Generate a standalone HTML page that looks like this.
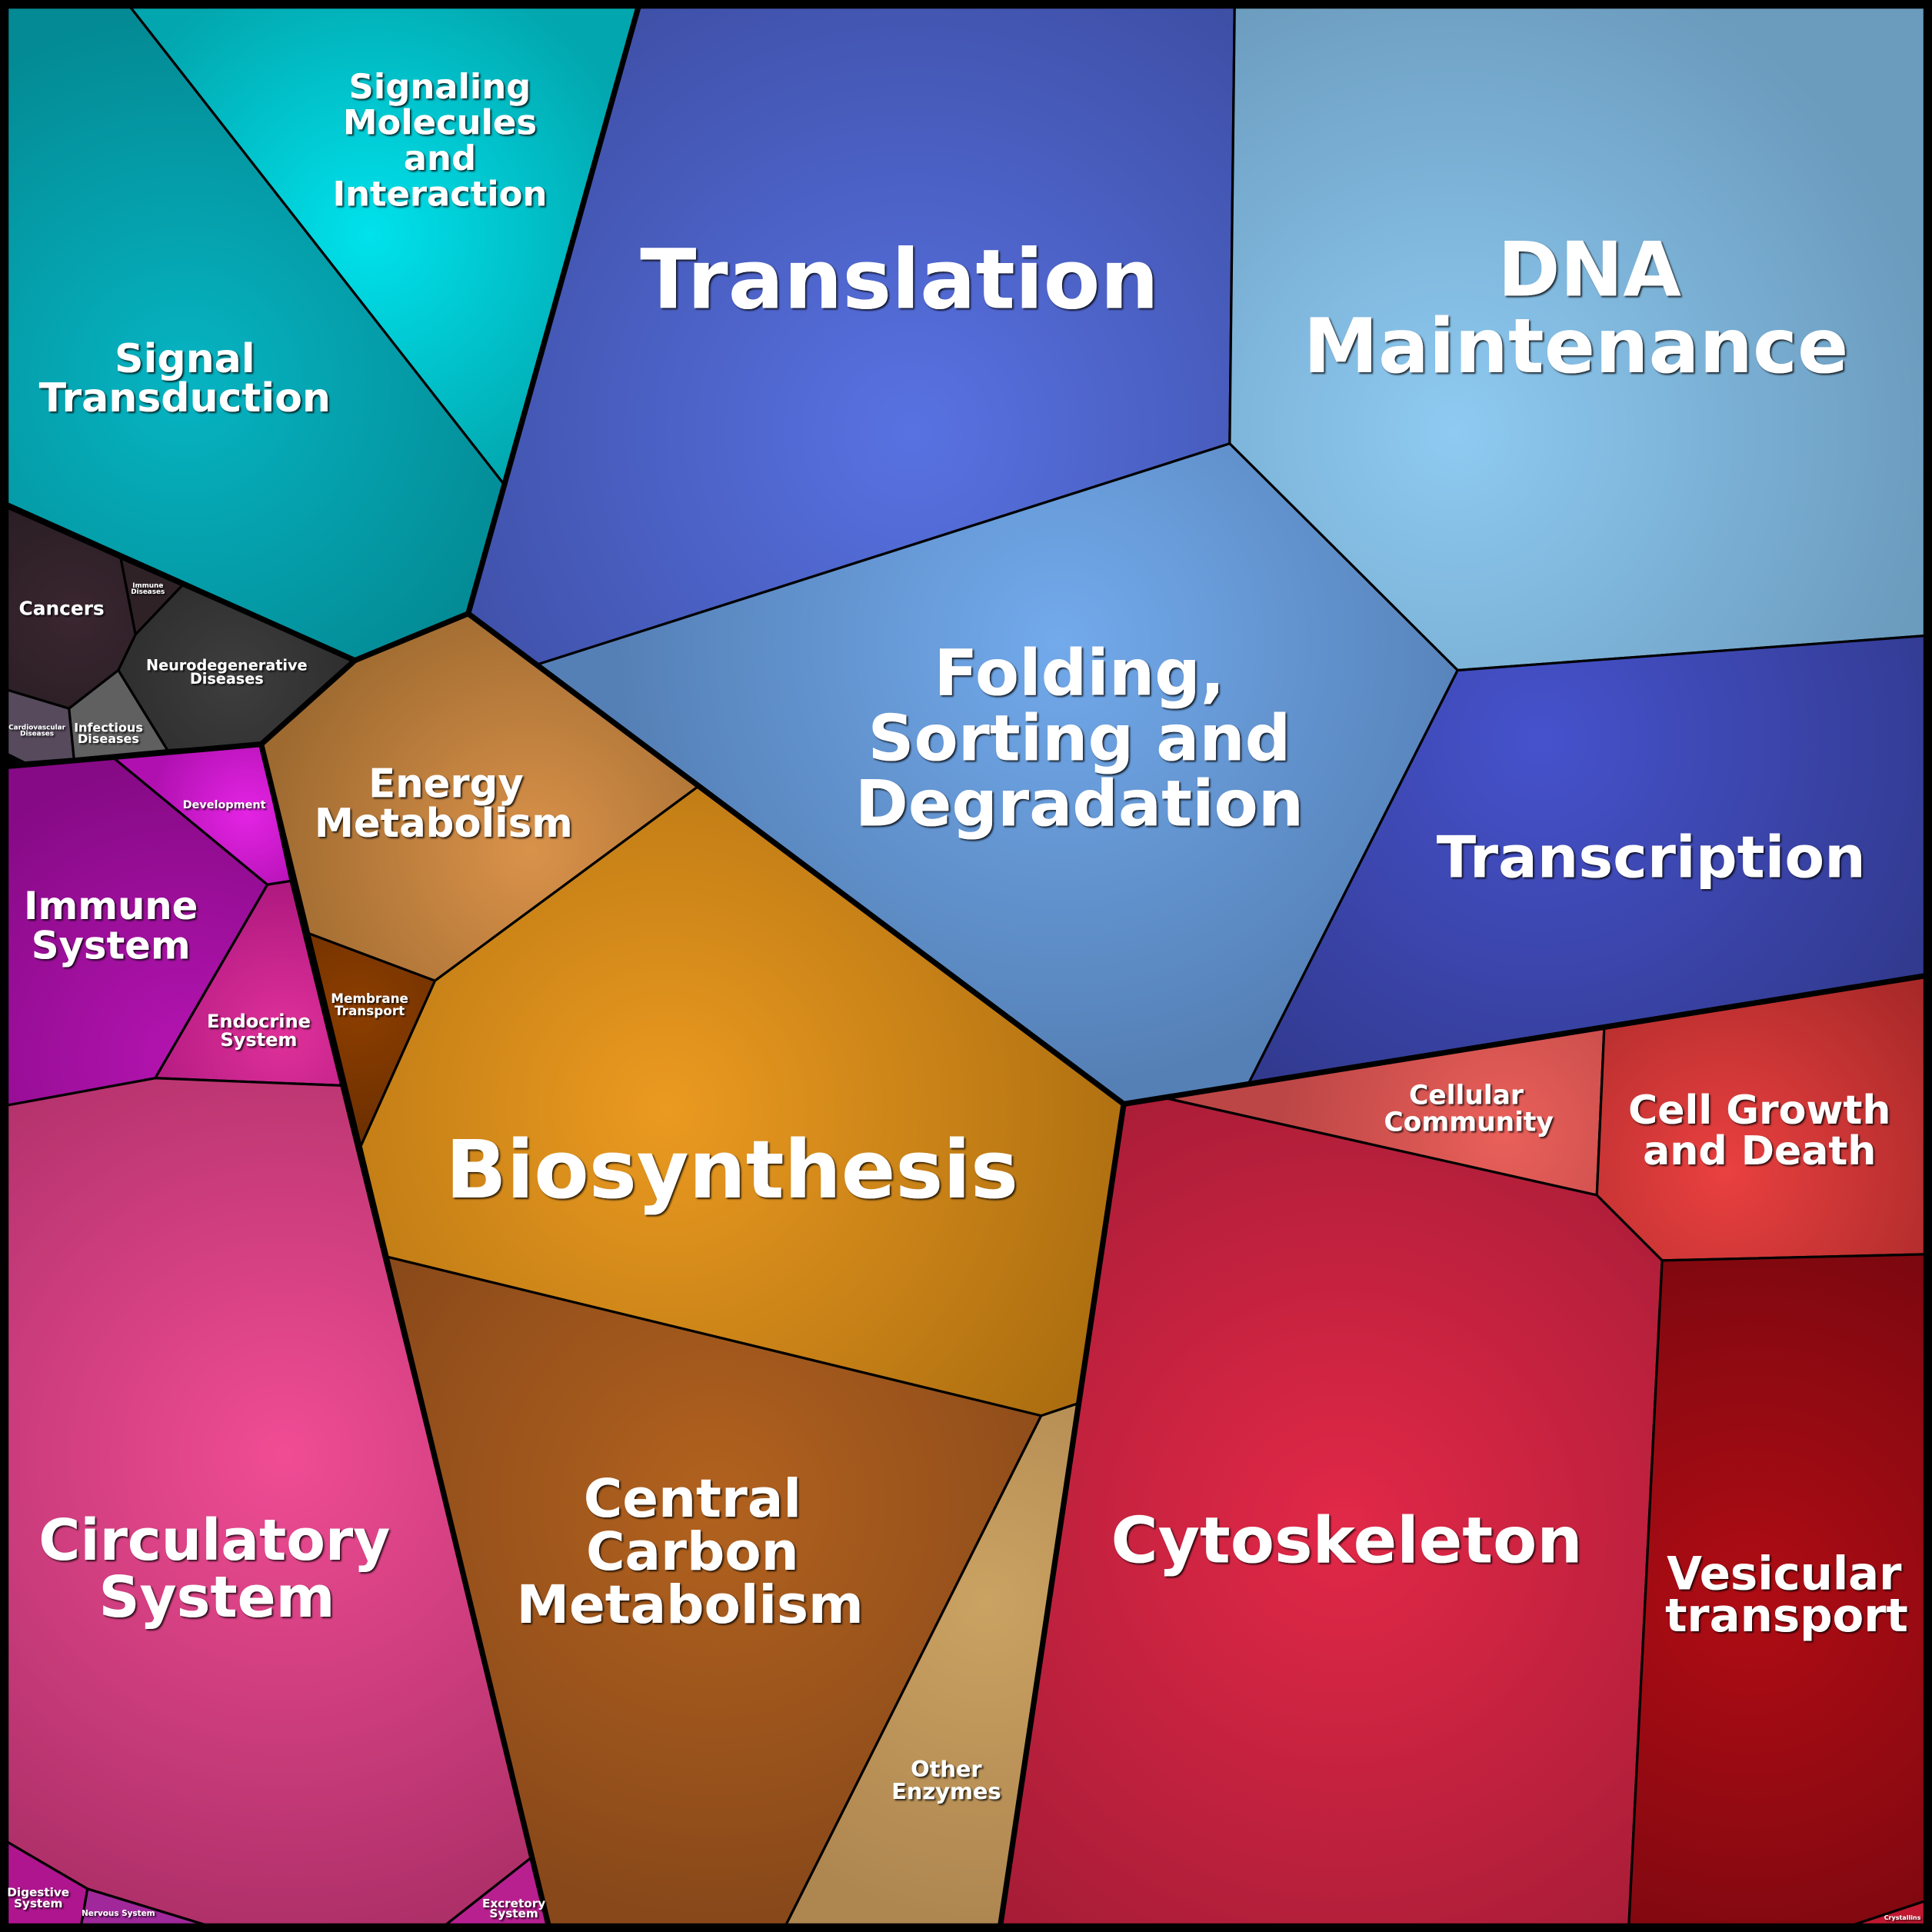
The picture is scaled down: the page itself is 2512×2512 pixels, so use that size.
<!DOCTYPE html>
<html><head><meta charset="utf-8"><style>
html,body{margin:0;padding:0;background:#000;}
svg{display:block;}
text{font-family:"DejaVu Sans","Liberation Sans",sans-serif;font-weight:bold;fill:#fff;text-anchor:middle;}
</style></head><body>
<svg width="2512" height="2512" viewBox="0 0 1568 1568" xmlns="http://www.w3.org/2000/svg">
<defs>
<filter id="sh" x="-10%" y="-10%" width="120%" height="130%"><feDropShadow dx="1.2" dy="1.2" stdDeviation="0.6" flood-color="#000" flood-opacity="0.8"/></filter>
<radialGradient id="gST" gradientUnits="userSpaceOnUse" cx="150" cy="310" r="300"><stop offset="0" stop-color="#06b4c2"/><stop offset="1" stop-color="#038a94"/></radialGradient>
<radialGradient id="gSM" gradientUnits="userSpaceOnUse" cx="300" cy="190" r="230"><stop offset="0" stop-color="#00e2ec"/><stop offset="1" stop-color="#02a6ae"/></radialGradient>
<radialGradient id="gTR" gradientUnits="userSpaceOnUse" cx="740" cy="350" r="420"><stop offset="0" stop-color="#5872e2"/><stop offset="1" stop-color="#3e4fa6"/></radialGradient>
<radialGradient id="gDNA" gradientUnits="userSpaceOnUse" cx="1180" cy="350" r="400"><stop offset="0" stop-color="#8ecaf2"/><stop offset="1" stop-color="#6b9bbd"/></radialGradient>
<radialGradient id="gFO" gradientUnits="userSpaceOnUse" cx="860" cy="520" r="360"><stop offset="0" stop-color="#72aaec"/><stop offset="1" stop-color="#5580b6"/></radialGradient>
<radialGradient id="gTS" gradientUnits="userSpaceOnUse" cx="1250" cy="600" r="380"><stop offset="0" stop-color="#4652cc"/><stop offset="1" stop-color="#30388a"/></radialGradient>
<radialGradient id="gCA" gradientUnits="userSpaceOnUse" cx="60" cy="500" r="100"><stop offset="0" stop-color="#3a2630"/><stop offset="1" stop-color="#2a1e24"/></radialGradient>
<radialGradient id="gNE" gradientUnits="userSpaceOnUse" cx="190" cy="550" r="120"><stop offset="0" stop-color="#3e3e3e"/><stop offset="1" stop-color="#2a2a2a"/></radialGradient>
<radialGradient id="gDE" gradientUnits="userSpaceOnUse" cx="200" cy="660" r="80"><stop offset="0" stop-color="#e424e4"/><stop offset="1" stop-color="#b010b0"/></radialGradient>
<radialGradient id="gIM" gradientUnits="userSpaceOnUse" cx="150" cy="860" r="240"><stop offset="0" stop-color="#b414b0"/><stop offset="1" stop-color="#860a86"/></radialGradient>
<radialGradient id="gEN" gradientUnits="userSpaceOnUse" cx="230" cy="840" r="120"><stop offset="0" stop-color="#e0309a"/><stop offset="1" stop-color="#b01a80"/></radialGradient>
<radialGradient id="gCI" gradientUnits="userSpaceOnUse" cx="230" cy="1180" r="420"><stop offset="0" stop-color="#f04c94"/><stop offset="1" stop-color="#aa2e66"/></radialGradient>
<radialGradient id="gEM" gradientUnits="userSpaceOnUse" cx="430" cy="690" r="220"><stop offset="0" stop-color="#da924a"/><stop offset="1" stop-color="#9e6a30"/></radialGradient>
<radialGradient id="gMT" gradientUnits="userSpaceOnUse" cx="290" cy="820" r="100"><stop offset="0" stop-color="#8c3e00"/><stop offset="1" stop-color="#6e3000"/></radialGradient>
<radialGradient id="gBI" gradientUnits="userSpaceOnUse" cx="540" cy="900" r="400"><stop offset="0" stop-color="#eb9a20"/><stop offset="1" stop-color="#ac6e10"/></radialGradient>
<radialGradient id="gCC" gradientUnits="userSpaceOnUse" cx="580" cy="1220" r="340"><stop offset="0" stop-color="#b2621e"/><stop offset="1" stop-color="#88481a"/></radialGradient>
<radialGradient id="gOE" gradientUnits="userSpaceOnUse" cx="800" cy="1300" r="260"><stop offset="0" stop-color="#caa262"/><stop offset="1" stop-color="#ae8650"/></radialGradient>
<radialGradient id="gCO" gradientUnits="userSpaceOnUse" cx="1220" cy="920" r="180"><stop offset="0" stop-color="#ea605a"/><stop offset="1" stop-color="#bc4646"/></radialGradient>
<radialGradient id="gCG" gradientUnits="userSpaceOnUse" cx="1400" cy="950" r="220"><stop offset="0" stop-color="#ea4040"/><stop offset="1" stop-color="#a62828"/></radialGradient>
<radialGradient id="gCY" gradientUnits="userSpaceOnUse" cx="1090" cy="1240" r="420"><stop offset="0" stop-color="#e22848"/><stop offset="1" stop-color="#a61c36"/></radialGradient>
<radialGradient id="gVE" gradientUnits="userSpaceOnUse" cx="1420" cy="1300" r="300"><stop offset="0" stop-color="#b00c14"/><stop offset="1" stop-color="#7e0810"/></radialGradient>
</defs>
<rect width="1568" height="1568" fill="#000"/>
<g stroke="#000" stroke-width="2" stroke-linejoin="round">
<polygon fill="url(#gST)" points="6,6 106,6 409,393 380,498 288,536 6,410"/>
<polygon fill="url(#gSM)" points="106,6 518,6 409,393"/>
<polygon fill="url(#gTR)" points="518,6 1002,6 998,360 437,539 380,498"/>
<polygon fill="url(#gDNA)" points="1002,6 1562,6 1562,516 1183,544 998,360"/>
<polygon fill="url(#gFO)" points="437,539 998,360 1183,544 1013,880 912,896"/>
<polygon fill="url(#gTS)" points="1183,544 1562,516 1562,792 1013,880"/>
<polygon fill="url(#gCA)" points="6,412 98,453 110,515 96,544 56,575 6,560"/>
<polygon fill="#2e2226" points="98,453 148,475 110,515"/>
<polygon fill="url(#gNE)" points="148,475 288,536 212,604 136,609 96,544 110,515"/>
<polygon fill="#606060" points="56,575 96,544 136,609 60,616"/>
<polygon fill="#564a5c" points="6,560 56,575 60,616 20,619 6,612"/>
<polygon fill="url(#gDE)" points="92,615 212,604 236,715 217,718"/>
<polygon fill="url(#gIM)" points="6,622 92,615 217,718 126,875 6,897"/>
<polygon fill="url(#gEN)" points="217,718 236,715 277,881 126,875"/>
<polygon fill="url(#gCI)" points="6,897 126,875 277,881 432,1507 362,1562 166,1562 71,1533 6,1495"/>
<polygon fill="#b01590" points="6,1495 71,1533 66,1562 6,1562"/>
<polygon fill="#a0289a" points="71,1533 166,1562 66,1562"/>
<polygon fill="#b82090" points="432,1507 445,1562 362,1562"/>
<polygon fill="url(#gEM)" points="212,604 288,536 380,498 567,638 353,796 249,757"/>
<polygon fill="url(#gMT)" points="249,757 353,796 292,932"/>
<polygon fill="url(#gBI)" points="353,796 567,638 912,896 875,1139 845,1149 314,1020 292,932"/>
<polygon fill="url(#gCC)" points="314,1020 845,1149 638,1562 445,1562"/>
<polygon fill="url(#gOE)" points="845,1149 875,1139 812,1562 638,1562"/>
<polygon fill="url(#gCO)" points="945,891 1302,834 1296,970"/>
<polygon fill="url(#gCG)" points="1302,834 1562,792 1562,1018 1349,1023 1296,970"/>
<polygon fill="url(#gCY)" points="912,896 945,891 1296,970 1349,1023 1322,1562 812,1562"/>
<polygon fill="url(#gVE)" points="1349,1023 1562,1018 1562,1543 1505,1562 1322,1562"/>
<polygon fill="#c01830" points="1505,1562 1562,1543 1562,1562"/>
</g>
<g stroke="#000" stroke-width="4.5" fill="none" stroke-linejoin="round">
<polyline points="6,410 288,536 380,498 518,6"/>
<polyline points="380,498 912,896 1562,792"/>
<polyline points="912,896 812,1562"/>
<polyline points="6,622 212,604 288,536"/>
<polyline points="212,604 292,932 445,1562"/>
</g>
<rect x="3" y="3" width="1562" height="1562" fill="none" stroke="#000" stroke-width="7"/>
<g filter="url(#sh)">
<text font-size="28"><tspan x="357" y="80">Signaling</tspan><tspan x="357" y="109">Molecules</tspan><tspan x="357" y="138">and</tspan><tspan x="357" y="167">Interaction</tspan></text>
<text font-size="32.5"><tspan x="150" y="302">Signal</tspan><tspan x="150" y="334">Transduction</tspan></text>
<text font-size="67" x="730" y="250">Translation</text>
<text font-size="61"><tspan x="1290" y="240">DNA</tspan><tspan x="1279" y="302">Maintenance</tspan></text>
<text font-size="52"><tspan x="876" y="564">Folding,</tspan><tspan x="876" y="617">Sorting and</tspan><tspan x="876" y="670">Degradation</tspan></text>
<text font-size="47" x="1340" y="712">Transcription</text>
<text font-size="15.5" x="50" y="499">Cancers</text>
<text font-size="5.5"><tspan x="120" y="477">Immune</tspan><tspan x="120" y="482">Diseases</tspan></text>
<text font-size="12"><tspan x="184" y="544">Neurodegenerative</tspan><tspan x="184" y="555">Diseases</tspan></text>
<text font-size="10"><tspan x="88" y="594">Infectious</tspan><tspan x="88" y="603">Diseases</tspan></text>
<text font-size="5.5"><tspan x="30" y="592">Cardiovascular</tspan><tspan x="30" y="597">Diseases</tspan></text>
<text font-size="9" x="182" y="656">Development</text>
<text font-size="31"><tspan x="90" y="746">Immune</tspan><tspan x="90" y="778">System</tspan></text>
<text font-size="15"><tspan x="210" y="834">Endocrine</tspan><tspan x="210" y="849">System</tspan></text>
<text font-size="10.5"><tspan x="300" y="814">Membrane</tspan><tspan x="300" y="824">Transport</tspan></text>
<text font-size="32"><tspan x="362" y="647">Energy</tspan><tspan x="360" y="679">Metabolism</tspan></text>
<text font-size="65" x="594" y="972">Biosynthesis</text>
<text font-size="43"><tspan x="562" y="1231">Central</tspan><tspan x="562" y="1274">Carbon</tspan><tspan x="560" y="1317">Metabolism</tspan></text>
<text font-size="18"><tspan x="768" y="1442">Other</tspan><tspan x="768" y="1460">Enzymes</tspan></text>
<text font-size="46"><tspan x="174" y="1266">Circulatory</tspan><tspan x="176" y="1312">System</tspan></text>
<text font-size="52" x="1093" y="1268">Cytoskeleton</text>
<text font-size="37"><tspan x="1448" y="1290">Vesicular</tspan><tspan x="1450" y="1324">transport</tspan></text>
<text font-size="21.5"><tspan x="1190" y="896">Cellular</tspan><tspan x="1192" y="918">Community</tspan></text>
<text font-size="32.5"><tspan x="1428" y="912">Cell Growth</tspan><tspan x="1428" y="945">and Death</tspan></text>
<text font-size="9.5"><tspan x="31" y="1539">Digestive</tspan><tspan x="31" y="1548">System</tspan></text>
<text font-size="6.5" x="96" y="1555">Nervous System</text>
<text font-size="9.5"><tspan x="417" y="1548">Excretory</tspan><tspan x="417" y="1556">System</tspan></text>
<text font-size="5" x="1544" y="1558">Crystallins</text>
</g>
</svg>
</body></html>
